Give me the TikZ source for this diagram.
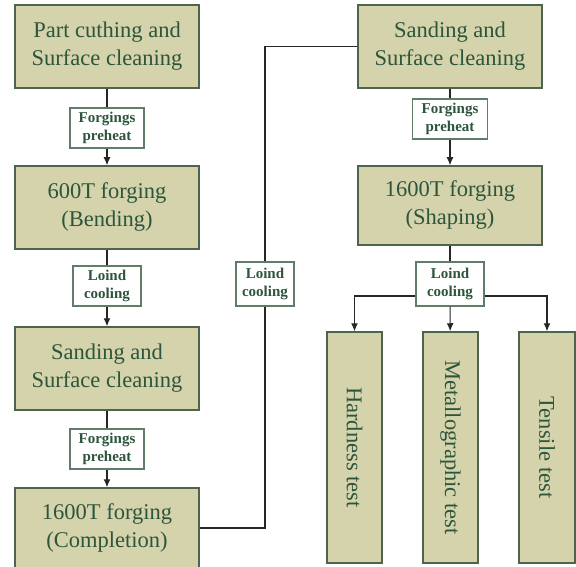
\documentclass[tikz,border=0pt]{standalone}
\usepackage{fontspec}
\usepackage{graphicx}
\usetikzlibrary{arrows.meta}
\setmainfont{Liberation Serif}
\definecolor{boxfill}{RGB}{213,211,172}
\definecolor{boxline}{RGB}{78,100,78}
\definecolor{boxtext}{RGB}{45,85,60}
\definecolor{labline}{RGB}{95,125,105}
\begin{document}
\begin{tikzpicture}[x=1pt, y=-1pt, >={Latex[length=8pt,width=7pt]},
		stagebox/.style={draw=boxline, fill=boxfill, line width=1.5pt, text=boxtext, align=center,
			minimum width=184pt, minimum height=83pt, inner sep=0pt, font=\fontsize{22.5}{28}\selectfont},
		testbox/.style={stagebox, minimum width=55pt, minimum height=231pt},
		stepnote/.style={draw=labline, fill=white, line width=1.2pt, text=boxtext, align=center,
			minimum width=74pt, minimum height=40pt, inner sep=0pt, font=\bfseries\fontsize{15}{18}\selectfont},
		link/.style={line width=1.1pt, black!85}]
	\useasboundingbox (0,0) rectangle (576,567);
	% left column
	\node[stagebox] (cut) at (107,46.5) {Part cuthing and\\Surface cleaning};
	\node[stepnote] (pre1) at (107,128) {Forgings\\preheat};
	\node[stagebox] (bend) at (107,207.5) {600T forging\\(Bending)};
	\node[stepnote, minimum width=68pt] (cool1) at (107,286) {Loind\\cooling};
	\node[stagebox] (sand1) at (107,368.5) {Sanding and\\Surface cleaning};
	\node[stepnote] (pre2) at (107,449) {Forgings\\preheat};
	\node[stagebox, minimum height=80pt] (done) at (107,528) {1600T forging\\(Completion)};
	% middle link
	\node[stepnote, minimum width=58pt, minimum height=44pt] (cool2) at (265,284) {Loind\\cooling};
	% right column
	\node[stagebox] (sand2) at (450,46.5) {Sanding and\\Surface cleaning};
	\node[stepnote, minimum width=75pt] (pre3) at (450,119) {Forgings\\preheat};
	\node[stagebox, minimum height=79pt] (shape) at (450,205.5) {1600T forging\\(Shaping)};
	\node[stepnote, minimum width=68pt, minimum height=44pt] (cool3) at (450,284) {Loind\\cooling};
	\node[testbox] (hard) at (354.5,447.5) {\rotatebox{-90}{Hardness test}};
	\node[testbox] (metal) at (450.5,447.5) {\rotatebox{-90}{Metallographic test}};
	\node[testbox, minimum width=56pt] (tens) at (547,447.5) {\rotatebox{-90}{Tensile test}};
	% connectors
	\draw[link] (cut) -- (pre1);
	\draw[link, ->] (pre1) -- (bend);
	\draw[link] (bend) -- (cool1);
	\draw[link, ->] (cool1) -- (sand1);
	\draw[link] (sand1) -- (pre2);
	\draw[link, ->] (pre2) -- (done);
	\draw[link] (done.east) -| (cool2.south);
	\draw[link] (cool2.north) |- (sand2.west);
	\draw[link] (sand2) -- (pre3);
	\draw[link, ->] (pre3) -- (shape);
	\draw[link] (shape) -- (cool3);
	\draw[link, ->] (cool3) -- (metal);
	\draw[link, ->] ([yshift=-12pt]cool3.west) -| (hard.north);
	\draw[link, ->] ([yshift=-12pt]cool3.east) -| (tens.north);
\end{tikzpicture}
\end{document}
